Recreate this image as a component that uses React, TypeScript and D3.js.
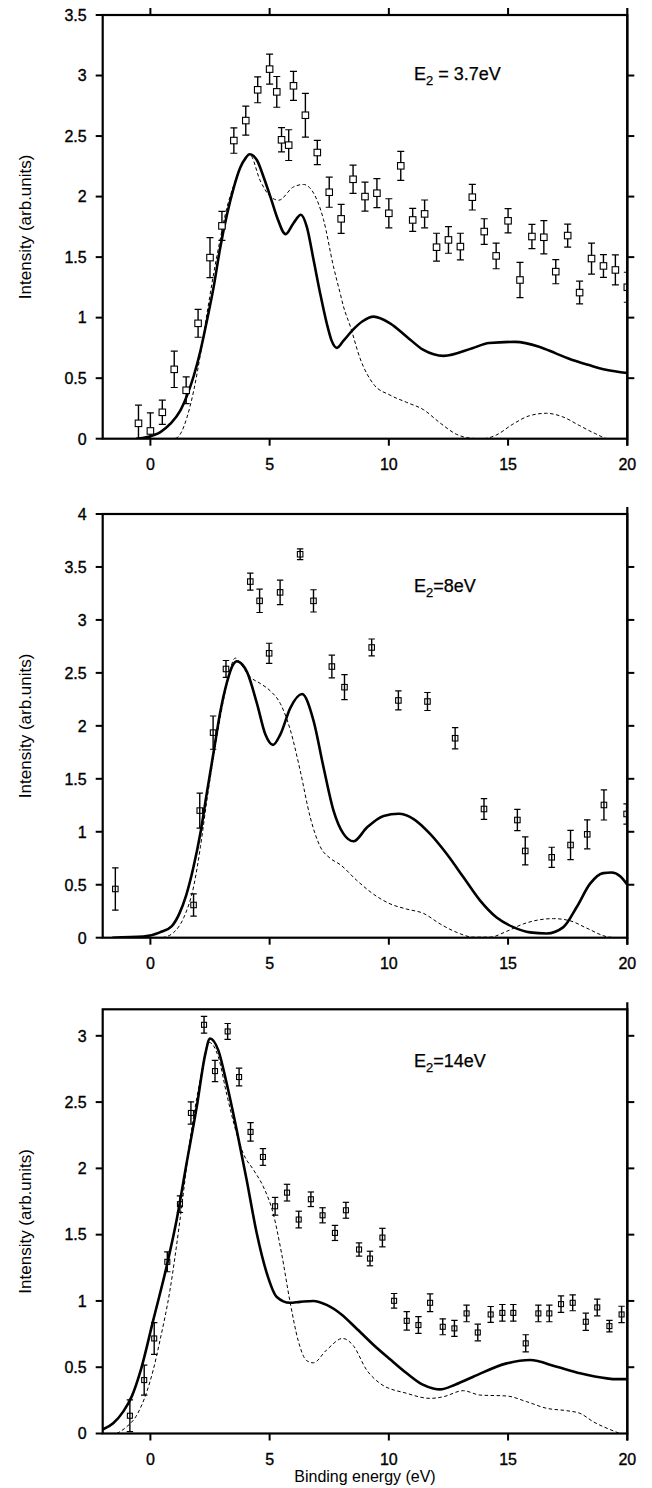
import React from 'react';
import * as d3 from 'd3';

// ---------- data ----------
const X_TICKS = [0, 5, 10, 15, 20];
const Y_TICKS_1 = [0, 0.5, 1, 1.5, 2, 2.5, 3, 3.5];
const Y_TICKS_2 = [0, 0.5, 1, 1.5, 2, 2.5, 3, 3.5, 4];
const Y_TICKS_3 = [0, 0.5, 1, 1.5, 2, 2.5, 3];

// Panel 1: E2 = 3.7 eV
const energy1 = [-0.5, 0, 0.5, 1, 1.5, 2, 2.5, 3, 3.5, 4, 4.5, 5, 5.3, 5.5, 5.8, 6, 6.5, 7, 7.5, 8, 8.5, 9, 9.5, 10, 10.5, 11, 11.5, 12, 12.5, 13, 13.5, 14, 14.5, 15, 15.5, 16, 16.5, 17, 17.5, 18, 18.5, 19, 19.5, 20];
const intensity1 = [0.127, 0.064, 0.218, 0.573, 0.4, 0.953, 1.496, 1.758, 2.463, 2.628, 2.882, 3.053, 2.865, 2.469, 2.425, 2.915, 2.672, 2.364, 2.036, 1.816, 2.143, 2.0, 2.028, 1.862, 2.254, 1.807, 1.857, 1.582, 1.642, 1.587, 1.995, 1.711, 1.51, 1.8, 1.311, 1.67, 1.664, 1.38, 1.678, 1.207, 1.488, 1.427, 1.394, 1.251];
const error1 = [0.15, 0.15, 0.1, 0.15, 0.11, 0.115, 0.165, 0.12, 0.105, 0.12, 0.107, 0.124, 0.127, 0.1, 0.127, 0.12, 0.18, 0.1, 0.124, 0.12, 0.117, 0.12, 0.12, 0.12, 0.12, 0.095, 0.115, 0.115, 0.11, 0.11, 0.106, 0.106, 0.106, 0.1, 0.146, 0.1, 0.138, 0.1, 0.095, 0.094, 0.128, 0.094, 0.124, 0.124];
const theory1Solid: [number, number][] = [[-0.6, 0], [-0.27, 0.008], [0.15, 0.03], [0.42, 0.055], [0.84, 0.124], [1.26, 0.234], [1.54, 0.358], [1.82, 0.52], [2.1, 0.727], [2.37, 0.975], [2.65, 1.25], [2.93, 1.58], [3.21, 1.85], [3.49, 2.07], [3.77, 2.24], [4.0, 2.32], [4.16, 2.35], [4.47, 2.3], [4.75, 2.16], [5.03, 2.0], [5.31, 1.83], [5.67, 1.69], [6.0, 1.78], [6.31, 1.85], [6.56, 1.75], [6.84, 1.48], [7.12, 1.2], [7.4, 0.95], [7.6, 0.81], [7.82, 0.75], [8.1, 0.81], [8.52, 0.905], [8.9, 0.97], [9.36, 1.008], [10.05, 0.953], [10.75, 0.843], [11.45, 0.733], [12.3, 0.684], [13.5, 0.747], [14.2, 0.79], [15.3, 0.8], [16.3, 0.76], [17.0, 0.705], [17.7, 0.65], [18.4, 0.608], [19.1, 0.57], [20, 0.543]];
const theory1Dashed: [number, number][] = [[0.8, 0], [1.08, 0.005], [1.26, 0.04], [1.54, 0.18], [1.82, 0.4], [2.1, 0.7], [2.37, 1.03], [2.65, 1.36], [2.93, 1.65], [3.21, 1.91], [3.49, 2.09], [3.77, 2.24], [4.16, 2.35], [4.61, 2.13], [5.03, 2.0], [5.38, 1.97], [6.0, 2.08], [6.42, 2.1], [6.84, 2.03], [7.26, 1.81], [7.68, 1.42], [7.96, 1.2], [8.1, 1.09], [8.38, 0.93], [8.8, 0.66], [9.36, 0.45], [10.05, 0.36], [10.75, 0.3], [11.45, 0.24], [12.15, 0.13], [12.85, 0.035], [13.5, 0.003], [13.96, 0], [14.5, 0.03], [15.2, 0.12], [15.9, 0.19], [16.6, 0.21], [17.3, 0.18], [17.98, 0.11], [18.68, 0.04], [19.2, 0.0], [19.5, 0]];

// Panel 2: E2 = 8 eV
const energy2 = [-1.47, 1.81, 2.07, 2.63, 3.17, 4.19, 4.58, 4.98, 5.44, 6.28, 6.84, 7.61, 8.14, 9.28, 10.4, 11.62, 12.78, 13.99, 15.39, 15.72, 16.83, 17.62, 18.32, 19.02, 19.97];
const intensity2 = [0.46, 0.309, 1.2, 1.936, 2.537, 3.362, 3.18, 2.685, 3.26, 3.62, 3.18, 2.56, 2.365, 2.74, 2.24, 2.23, 1.883, 1.215, 1.111, 0.819, 0.759, 0.875, 0.976, 1.253, 1.168];
const error2 = [0.2, 0.105, 0.165, 0.157, 0.08, 0.08, 0.11, 0.095, 0.115, 0.05, 0.105, 0.107, 0.118, 0.08, 0.09, 0.085, 0.1, 0.098, 0.1, 0.132, 0.095, 0.138, 0.137, 0.142, 0.096];
const theory2Solid: [number, number][] = [[-1.6, 0], [-0.3, 0.01], [0.4, 0.05], [0.9, 0.11], [1.2, 0.22], [1.5, 0.4], [1.8, 0.66], [2.1, 0.99], [2.37, 1.37], [2.65, 1.75], [2.93, 2.13], [3.21, 2.41], [3.45, 2.57], [3.63, 2.61], [3.85, 2.58], [4.05, 2.51], [4.47, 2.21], [4.82, 1.92], [5.14, 1.82], [5.45, 1.92], [5.87, 2.17], [6.36, 2.3], [6.84, 2.05], [7.26, 1.61], [7.68, 1.2], [8.1, 0.98], [8.52, 0.91], [9.08, 1.04], [9.78, 1.15], [10.41, 1.17], [11.04, 1.12], [11.73, 0.98], [12.43, 0.79], [13.13, 0.57], [13.83, 0.35], [14.52, 0.19], [15.22, 0.1], [15.92, 0.05], [16.62, 0.04], [17.32, 0.1], [17.88, 0.29], [18.44, 0.51], [18.99, 0.61], [19.34, 0.615], [19.7, 0.58], [20, 0.5]];
const theory2Dashed: [number, number][] = [[0.5, 0], [0.98, 0.05], [1.4, 0.19], [1.82, 0.49], [2.1, 0.86], [2.37, 1.3], [2.65, 1.71], [2.93, 2.08], [3.21, 2.4], [3.56, 2.64], [3.77, 2.59], [4.19, 2.46], [4.61, 2.4], [5.03, 2.33], [5.45, 2.21], [5.87, 1.96], [6.28, 1.58], [6.7, 1.14], [7.12, 0.86], [7.54, 0.75], [7.96, 0.69], [8.66, 0.54], [9.36, 0.41], [10.05, 0.32], [10.75, 0.27], [11.45, 0.23], [12.15, 0.13], [12.85, 0.05], [13.55, 0.005], [14.24, 0.005], [14.94, 0.06], [15.64, 0.13], [16.34, 0.17], [16.9, 0.18], [17.6, 0.16], [18.3, 0.09], [19.13, 0.01], [19.55, 0]];

// Panel 3: E2 = 14 eV
const energy3 = [-0.86, -0.26, 0.16, 0.71, 1.24, 1.7, 2.25, 2.71, 3.24, 3.72, 4.2, 4.72, 5.23, 5.73, 6.22, 6.73, 7.22, 7.74, 8.2, 8.75, 9.21, 9.73, 10.22, 10.75, 11.24, 11.73, 12.26, 12.75, 13.26, 13.73, 14.27, 14.76, 15.22, 15.74, 16.27, 16.73, 17.22, 17.71, 18.26, 18.74, 19.25, 19.76];
const intensity3 = [0.134, 0.403, 0.717, 1.295, 1.73, 2.418, 3.083, 2.734, 3.033, 2.689, 2.275, 2.086, 1.714, 1.817, 1.614, 1.767, 1.646, 1.513, 1.684, 1.388, 1.32, 1.478, 1.001, 0.85, 0.818, 0.986, 0.805, 0.793, 0.906, 0.762, 0.898, 0.91, 0.91, 0.68, 0.906, 0.906, 0.976, 0.986, 0.843, 0.951, 0.81, 0.898];
const error3 = [0.12, 0.113, 0.12, 0.075, 0.063, 0.084, 0.063, 0.08, 0.06, 0.067, 0.07, 0.063, 0.067, 0.063, 0.063, 0.055, 0.057, 0.057, 0.06, 0.05, 0.055, 0.07, 0.055, 0.07, 0.063, 0.067, 0.06, 0.06, 0.063, 0.063, 0.06, 0.063, 0.063, 0.065, 0.063, 0.063, 0.062, 0.06, 0.065, 0.063, 0.044, 0.062];
const theory3Solid: [number, number][] = [[-2, 0.03], [-1.56, 0.077], [-1.14, 0.165], [-0.78, 0.28], [-0.4, 0.48], [0.12, 0.855], [0.68, 1.26], [1.1, 1.61], [1.52, 2.04], [1.94, 2.46], [2.3, 2.86], [2.5, 2.98], [2.85, 2.89], [3.2, 2.64], [3.62, 2.29], [4.04, 1.91], [4.46, 1.51], [4.88, 1.21], [5.3, 1.03], [5.85, 0.986], [6.27, 0.993], [6.83, 1.0], [7.39, 0.97], [8.0, 0.9], [8.6, 0.8], [9.35, 0.67], [10.05, 0.56], [10.75, 0.454], [11.4, 0.37], [11.86, 0.34], [12.14, 0.333], [12.8, 0.37], [13.54, 0.428], [14.94, 0.529], [15.92, 0.554], [17.04, 0.503], [18.02, 0.454], [19.14, 0.416], [19.5, 0.41], [20, 0.41]];
const theory3Dashed: [number, number][] = [[-1.41, 0], [-1.0, 0.05], [-0.6, 0.13], [-0.16, 0.31], [0.12, 0.48], [0.4, 0.7], [0.82, 1.08], [1.24, 1.61], [1.66, 2.21], [2.08, 2.66], [2.47, 2.95], [2.85, 2.84], [3.2, 2.56], [3.62, 2.26], [3.9, 2.11], [4.32, 1.99], [4.74, 1.86], [5.15, 1.66], [5.5, 1.36], [5.85, 1.0], [6.2, 0.7], [6.55, 0.55], [6.83, 0.533], [7.39, 0.63], [8.06, 0.717], [8.5, 0.665], [9.07, 0.479], [9.63, 0.378], [10.75, 0.303], [11.73, 0.265], [12.28, 0.277], [13.12, 0.323], [13.82, 0.29], [14.94, 0.283], [15.78, 0.24], [16.62, 0.19], [17.46, 0.172], [18.02, 0.152], [18.57, 0.089], [19.41, 0.02], [19.69, 0]];

const labels = [
  { main: 'E', sub: '2', rest: ' = 3.7eV' },
  { main: 'E', sub: '2', rest: '=8eV' },
  { main: 'E', sub: '2', rest: '=14eV' },
];

// ---------- layout ----------
const W = 652;
const H = 1488;
const LEFT = 102.7;
const RIGHT = 627.3;
const FONT = "'Liberation Sans', Arial, Helvetica, sans-serif";

type Panel = {
  top: number; bottom: number; ymax: number; yTicks: number[];
  energy: number[]; intensity: number[]; error: number[];
  solid: [number, number][]; dashed: [number, number][];
  labelY: number; box: number; fill: string; topTicks: boolean;
};

const panels: Panel[] = [
  { top: 15, bottom: 438.7, ymax: 3.5, yTicks: Y_TICKS_1, energy: energy1, intensity: intensity1, error: error1, solid: theory1Solid, dashed: theory1Dashed, labelY: 80, box: 6.5, fill: '#fff', topTicks: true },
  { top: 514, bottom: 937.7, ymax: 4, yTicks: Y_TICKS_2, energy: energy2, intensity: intensity2, error: error2, solid: theory2Solid, dashed: theory2Dashed, labelY: 591.5, box: 5.5, fill: 'none', topTicks: false },
  { top: 1009.3, bottom: 1433.5, ymax: 3.2, yTicks: Y_TICKS_3, energy: energy3, intensity: intensity3, error: error3, solid: theory3Solid, dashed: theory3Dashed, labelY: 1067, box: 5, fill: 'none', topTicks: false },
];

function PanelView({ p, idx }: { p: Panel; idx: number }) {
  const x = d3.scaleLinear().domain([-2, 20]).range([LEFT, RIGHT]);
  const y = d3.scaleLinear().domain([0, p.ymax]).range([p.bottom, p.top]);
  const line = d3.line<[number, number]>().x(d => x(d[0])).y(d => y(d[1])).curve(d3.curveMonotoneX);
  const clipId = `clip${idx}`;
  const lab = labels[idx];
  const half = p.box / 2;
  const cap = idx === 0 ? 3.5 : 3.2;
  return (
    <g>
      <defs>
        <clipPath id={clipId}>
          <rect x={LEFT} y={p.top} width={RIGHT - LEFT} height={p.bottom - p.top} />
        </clipPath>
      </defs>
      <g clipPath={`url(#${clipId})`}>
        <path d={line(p.dashed) || ''} fill="none" stroke="#000" strokeWidth={1} strokeDasharray="3.5,2.5" />
        <path d={line(p.solid) || ''} fill="none" stroke="#000" strokeWidth={2.6} />
      </g>
      <g clipPath={`url(#${clipId})`}>
        {p.energy.map((e, i) => {
          const cx = x(e);
          const v = p.intensity[i];
          const err = p.error[i];
          const y1 = y(Math.min(v + err, p.ymax));
          const y0 = y(Math.max(v - err, 0));
          const cy = y(v);
          return (
            <g key={i}>
              <line x1={cx} x2={cx} y1={y1} y2={y0} stroke="#000" strokeWidth={1.4} />
              <line x1={cx - cap} x2={cx + cap} y1={y1} y2={y1} stroke="#000" strokeWidth={1.2} />
              <line x1={cx - cap} x2={cx + cap} y1={y0} y2={y0} stroke="#000" strokeWidth={1.2} />
              <rect x={cx - half} y={cy - half} width={p.box} height={p.box} fill={p.fill} stroke="#000" strokeWidth={1.1} />
            </g>
          );
        })}
      </g>
      <rect x={LEFT} y={p.top} width={RIGHT - LEFT} height={p.bottom - p.top} fill="none" stroke="#000" strokeWidth={2.2} />
      <line x1={RIGHT} x2={RIGHT} y1={p.top - 7} y2={p.bottom + 7} stroke="#000" strokeWidth={2.2} />
      {p.yTicks.map(t => (
        <g key={'yl' + t}>
          <line x1={LEFT - 7} x2={LEFT} y1={y(t)} y2={y(t)} stroke="#000" strokeWidth={2} />
          <text x={LEFT - 16} y={y(t) + 5.8} textAnchor="end" fontSize={16} fontFamily={FONT} fill="#000" stroke="#000" strokeWidth={0.35}>{String(t)}</text>
        </g>
      ))}
      {p.yTicks.filter(t => t > 0 && t < p.ymax).map(t => (
        <line key={'yr' + t} x1={RIGHT} x2={RIGHT + 7} y1={y(t)} y2={y(t)} stroke="#000" strokeWidth={2} />
      ))}
      {X_TICKS.map(t => (
        <g key={'xb' + t}>
          <line x1={x(t)} x2={x(t)} y1={p.bottom} y2={p.bottom + 7} stroke="#000" strokeWidth={2} />
          <text x={x(t)} y={p.bottom + 31} textAnchor="middle" fontSize={16} fontFamily={FONT} fill="#000" stroke="#000" strokeWidth={0.35}>{String(t)}</text>
        </g>
      ))}
      {p.topTicks && X_TICKS.filter(t => t < 20).map(t => (
        <line key={'xt' + t} x1={x(t)} x2={x(t)} y1={p.top - 7} y2={p.top} stroke="#000" strokeWidth={2} />
      ))}
      <text transform={`translate(31, ${(p.top + p.bottom) / 2}) rotate(-90)`} textAnchor="middle" fontSize={17} fontFamily={FONT} fill="#000">Intensity (arb.units)</text>
      <text x={414} y={p.labelY} fontSize={18} fontFamily={FONT} fill="#000" stroke="#000" strokeWidth={0.25}>
        <tspan>{lab.main}</tspan>
        <tspan dy={5} fontSize={13}>{lab.sub}</tspan>
        <tspan dy={-5}>{lab.rest}</tspan>
      </text>
    </g>
  );
}

export default function App() {
  return (
    <svg width={W} height={H} viewBox={`0 0 ${W} ${H}`} style={{ position: 'absolute', left: 0, top: 0, background: '#fff' }}>
      <rect x={0} y={0} width={W} height={H} fill="#fff" />
      {panels.map((p, i) => <PanelView key={i} p={p} idx={i} />)}
      <text x={(LEFT + RIGHT) / 2} y={1482} textAnchor="middle" fontSize={16} fontFamily={FONT} fill="#000">Binding energy (eV)</text>
    </svg>
  );
}
